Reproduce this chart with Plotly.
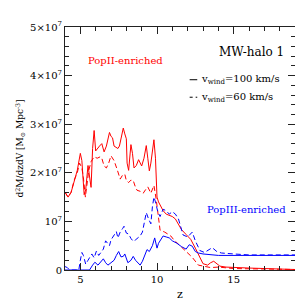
import plotly.graph_objects as go

# values in units of 1e7 Msun Mpc^-3
z_p2_100 = [4.0, 4.2, 4.4, 4.6, 4.8, 5.0, 5.1, 5.25, 5.35, 5.5, 5.6, 5.7, 5.8, 5.9, 6.0, 6.1, 6.25, 6.4,
            6.55, 6.7, 6.9, 7.0, 7.1, 7.2, 7.3, 7.45, 7.55, 7.7, 7.8, 7.9, 8.0, 8.05, 8.15, 8.3, 8.4,
            8.5, 8.65, 8.8, 9.0, 9.15, 9.3, 9.4, 9.5, 9.6, 9.8, 9.9, 10.0, 10.1, 10.25, 10.4, 10.6,
            10.8, 11.0, 11.2, 11.4, 11.6, 11.9, 12.2, 12.5, 12.8, 13.0, 13.3, 13.5, 13.7, 13.9, 14.1,
            14.5, 15.0, 16.0, 17.0, 18.0, 19.0]
v_p2_100 = [1.6, 1.5, 1.6, 1.85, 2.05, 2.4, 2.25, 1.55, 1.65, 2.15, 1.95, 1.7, 2.5, 2.87, 2.45, 2.5, 2.55, 2.6,
            2.43, 2.55, 2.83, 2.75, 2.72, 2.55, 2.53, 2.5, 2.55, 2.75, 2.92, 2.8, 2.7, 2.2, 2.05, 2.58, 2.4,
            2.1, 2.15, 2.27, 2.14, 2.3, 2.56, 2.3, 2.04, 2.2, 2.68, 2.3, 1.5, 1.4, 1.3, 1.22, 1.15,
            1.12, 1.1, 1.05, 0.95, 0.83, 0.73, 0.63, 0.45, 0.26, 0.13, 0.1, 0.15, 0.18, 0.13, 0.08,
            0.06, 0.05, 0.04, 0.03, 0.02, 0.01]

z_p2_60 = [4.0, 4.2, 4.4, 4.6, 4.8, 4.95, 5.1, 5.2, 5.33, 5.45, 5.55, 5.7, 5.9, 6.1, 6.3, 6.4, 6.55, 6.7,
           6.85, 7.0, 7.2, 7.4, 7.6, 7.75, 7.9, 8.0, 8.15, 8.3, 8.45, 8.6, 8.7, 8.9, 9.1, 9.25, 9.4,
           9.6, 9.8, 9.95, 10.1, 10.2, 10.5, 10.9, 11.1, 11.4, 11.9, 12.3, 12.7, 13.1, 13.5, 14.0,
           14.5, 15.0, 17.0, 19.0]
v_p2_60 = [1.6, 1.5, 1.6, 1.85, 2.0, 2.2, 2.1, 1.9, 1.5, 1.75, 2.05, 2.23, 2.33, 2.3, 2.33, 2.3, 2.14, 2.1,
           2.2, 2.35, 2.25, 2.07, 1.87, 1.95, 1.97, 1.84, 1.8, 1.85, 1.84, 1.7, 1.64, 1.62, 1.58, 1.65, 1.71,
           1.58, 1.74, 1.45, 1.0, 0.82, 0.78, 0.7, 0.62, 0.53, 0.39, 0.26, 0.1, 0.07, 0.05, 0.06,
           0.04, 0.03, 0.02, 0.01]

z_p3_100 = [4.0, 5.0, 5.6, 5.8, 5.95, 6.15, 6.3, 6.5, 6.65, 6.8, 7.0, 7.2, 7.35, 7.5, 7.65, 7.8, 7.9, 8.1,
            8.3, 8.45, 8.6, 8.8, 8.9, 9.05, 9.2, 9.35, 9.5, 9.7, 9.85, 10.0, 10.1, 10.25, 10.4, 10.6,
            10.8, 11.0, 11.3, 11.6, 11.9, 12.1, 12.3, 12.5, 12.7, 13.0, 13.6, 14.0, 19.0]
v_p3_100 = [0.0, 0.0, 0.0, 0.1, 0.16, 0.1, 0.15, 0.23, 0.15, 0.1, 0.15, 0.2, 0.3, 0.38, 0.27, 0.28, 0.33, 0.15,
            0.2, 0.28, 0.2, 0.12, 0.1, 0.18, 0.3, 0.42, 0.38, 0.5, 0.66, 0.45, 0.55, 0.62, 0.7, 0.68,
            0.66, 0.6, 0.55, 0.48, 0.43, 0.52, 0.49, 0.38, 0.35, 0.33, 0.31, 0.3, 0.3]

z_p3_60 = [4.0, 4.15, 4.3, 4.9, 5.0, 5.1, 5.2, 5.35, 5.5, 5.75, 5.9, 6.05, 6.2, 6.35, 6.5, 6.65, 6.75, 6.9,
           7.0, 7.2, 7.35, 7.45, 7.6, 7.75, 7.85, 8.0, 8.15, 8.3, 8.45, 8.6, 8.75, 8.9, 9.05, 9.2, 9.3,
           9.45, 9.6, 9.7, 9.8, 9.9, 10.05, 10.2, 10.4, 10.6, 10.8, 11.0, 11.2, 11.4, 11.55, 11.7, 12.0,
           12.3, 12.5, 12.8, 13.1, 13.6, 13.9, 14.2, 15.0, 16.0, 19.0]
v_p3_60 = [0.07, 0.05, 0.0, 0.0, 0.2, 0.36, 0.3, 0.12, 0.2, 0.33, 0.25, 0.39, 0.3, 0.38, 0.43, 0.6, 0.55, 0.5,
           0.62, 0.72, 0.79, 0.66, 0.78, 0.85, 0.9, 0.76, 0.74, 0.65, 0.59, 0.62, 0.67, 0.7, 0.78, 1.05, 1.18,
           1.05, 0.95, 1.3, 1.5, 1.4, 1.2, 1.1, 1.25, 1.22, 1.15, 1.2, 1.15, 1.05, 0.9, 0.72, 0.68,
           0.78, 0.6, 0.4, 0.36, 0.46, 0.38, 0.35, 0.33, 0.31, 0.31]

y_tickvals = [0, 1, 2, 3, 4, 5]
y_ticktext = ["0", "10<sup>7</sup>", "2×10<sup>7</sup>", "3×10<sup>7</sup>", "4×10<sup>7</sup>", "5×10<sup>7</sup>"]
x_tickvals = [5, 10, 15]
x_ticktext = ["5", "10", "15"]

RED = "rgb(255,0,0)"
BLUE = "rgb(0,0,255)"
FONT = "DejaVu Serif"

fig = go.Figure()
fig.add_trace(go.Scatter(x=z_p2_100, y=v_p2_100, mode="lines", line=dict(color=RED, width=1)))
fig.add_trace(go.Scatter(x=z_p2_60, y=v_p2_60, mode="lines", line=dict(color=RED, width=1, dash="5px,3px")))
fig.add_trace(go.Scatter(x=z_p3_100, y=v_p3_100, mode="lines", line=dict(color=BLUE, width=1)))
fig.add_trace(go.Scatter(x=z_p3_60, y=v_p3_60, mode="lines", line=dict(color=BLUE, width=1, dash="5px,3px")))

axcommon = dict(showline=True, linecolor="#222", linewidth=1, mirror="allticks", ticks="inside",
                tickcolor="#222", showgrid=False, zeroline=False,
                tickfont=dict(family=FONT, size=10, color="black"))

fig.update_xaxes(range=[4, 19], tickvals=x_tickvals, ticktext=x_ticktext, ticklen=7,
                 minor=dict(ticks="inside", ticklen=4, dtick=1, tickcolor="#222", showgrid=False),
                 title=dict(text="z", font=dict(family=FONT, size=11, color="black"), standoff=6),
                 **axcommon)
fig.update_yaxes(range=[0, 5], tickvals=y_tickvals, ticktext=y_ticktext, ticklen=7,
                 minor=dict(ticks="inside", ticklen=4, dtick=0.2, tickcolor="#222", showgrid=False),
                 title=dict(text="d<sup>2</sup>M/dzdV [M<sub>⊙</sub> Mpc<sup>-3</sup>]",
                            font=dict(family=FONT, size=9, color="black"), standoff=4),
                 **axcommon)

# legend keys (decorations, paper coords)
fig.add_shape(type="line", xref="paper", yref="paper", x0=0.542, x1=0.575, y0=0.783, y1=0.783,
              line=dict(color="black", width=1))
fig.add_shape(type="line", xref="paper", yref="paper", x0=0.542, x1=0.575, y0=0.711, y1=0.711,
              line=dict(color="black", width=1, dash="3px,3px"))

ann = [
    dict(text="PopII-enriched", x=0.2625, y=0.862, xanchor="center", font=dict(color=RED, size=10)),
    dict(text="MW-halo 1", x=0.9625, y=0.899, xanchor="right", font=dict(color="black", size=12)),
    dict(text="v<sub>wind</sub>=100 km/s", x=0.583, y=0.783, xanchor="left", font=dict(color="black", size=10)),
    dict(text="v<sub>wind</sub>=60 km/s", x=0.583, y=0.711, xanchor="left", font=dict(color="black", size=10)),
    dict(text="PopIII-enriched", x=0.79, y=0.247, xanchor="center", font=dict(color=BLUE, size=10)),
]
for a in ann:
    a["font"]["family"] = FONT
    fig.add_annotation(xref="paper", yref="paper", yanchor="middle", showarrow=False, **a)

fig.update_layout(width=303, height=303, margin=dict(l=47, r=16, t=16, b=33),
                  paper_bgcolor="white", plot_bgcolor="white", showlegend=False)

fig.write_html("out.html")
